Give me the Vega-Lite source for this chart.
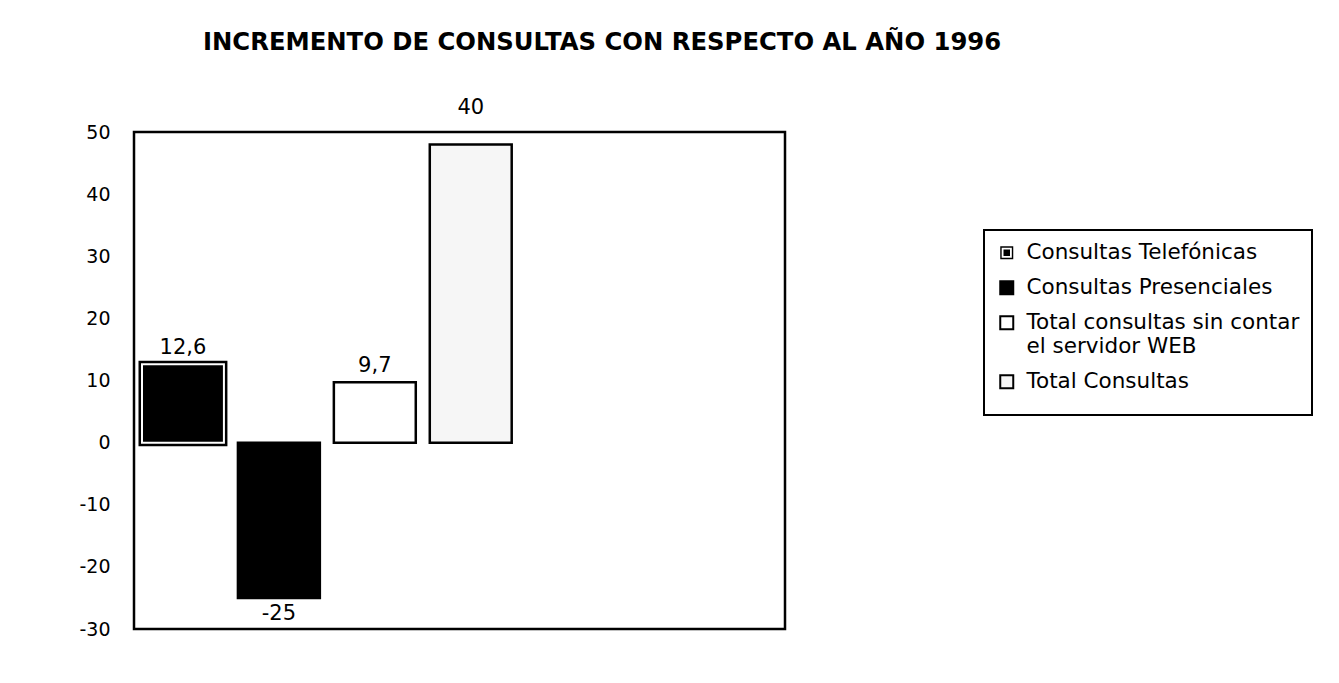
{
  "$schema": "https://vega.github.io/schema/vega-lite/v6.json",
  "autosize": {"type": "none"},
  "width": 651,
  "height": 497,
  "padding": {"left": 134, "top": 132, "right": 554, "bottom": 54},
  "background": "white",
  "title": {
    "text": "INCREMENTO DE CONSULTAS CON RESPECTO AL AÑO 1996",
    "font": "DejaVu Sans",
    "fontSize": 24.3,
    "fontWeight": "bold",
    "color": "black",
    "anchor": "start",
    "frame": "group",
    "dx": 69,
    "offset": 42
  },
  "data": {
    "values": [
      {"serie": "Consultas Telefónicas", "valor": 12.6, "etiqueta": "12,6"},
      {"serie": "Consultas Presenciales", "valor": -25, "etiqueta": "-25"},
      {"serie": "Total consultas sin contar el servidor WEB", "valor": 9.7, "etiqueta": "9,7"},
      {"serie": "Total Consultas", "valor": 48, "etiqueta": "40"}
    ]
  },
  "encoding": {
    "x": {
      "field": "serie",
      "type": "nominal",
      "axis": null,
      "scale": {
        "domain": ["Consultas Telefónicas", "Consultas Presenciales", "Total consultas sin contar el servidor WEB", "Total Consultas"],
        "paddingInner": 0.146,
        "paddingOuter": 0,
        "range": [8, 377.7]
      }
    },
    "y": {
      "field": "valor",
      "type": "quantitative",
      "scale": {"domain": [-30, 50], "nice": false, "zero": true},
      "axis": {
        "values": [-30, -20, -10, 0, 10, 20, 30, 40, 50],
        "labelExpr": "'' + datum.value",
        "domain": false,
        "ticks": false,
        "tickSize": 0,
        "grid": false,
        "title": null,
        "labelPadding": 24,
        "labelFont": "DejaVu Sans",
        "labelFontSize": 19,
        "labelColor": "black"
      }
    }
  },
  "layer": [
    {
      "mark": {"type": "bar", "stroke": "black"},
      "encoding": {
        "fill": {
          "field": "serie",
          "type": "nominal",
          "scale": {
            "domain": ["Consultas Telefónicas", "Consultas Presenciales", "Total consultas sin contar el servidor WEB", "Total Consultas"],
            "range": ["black", "black", "white", "#f6f6f6"]
          },
          "legend": {
            "orient": "none",
            "legendX": 850,
            "legendY": 98,
            "title": " ",
            "titleOrient": "bottom",
            "titleFontSize": 12,
            "titlePadding": 0,
            "padding": 12,
            "strokeColor": "black",
            "labelFont": "DejaVu Sans",
            "labelFontSize": 21.5,
            "labelColor": "black",
            "labelLimit": 500,
            "labelOffset": 9,
            "rowPadding": 12,
            "symbolType": "square",
            "symbolSize": 169,
            "symbolStrokeColor": "black",
            "symbolStrokeWidth": 2,
            "labelExpr": "datum.label == 'Total consultas sin contar el servidor WEB' ? ['Total consultas sin contar', 'el servidor WEB'] : datum.label",
            "encode": {
              "legend": {"update": {"strokeWidth": {"value": 2}}},
              "labels": {"update": {"lineHeight": {"value": 24}}},
              "symbols": {
                "update": {
                  "shape": {"signal": "datum.value == 'Consultas Telefónicas' ? 'M-1,-1H1V1H-1Z M-0.78,-0.78V0.78H0.78V-0.78Z M-0.5,-0.5H0.5V0.5H-0.5Z' : 'square'"},
                  "fill": {"signal": "(datum.value == 'Consultas Telefónicas' || datum.value == 'Consultas Presenciales') ? 'black' : 'white'"},
                  "stroke": {"value": "black"},
                  "strokeWidth": {"signal": "datum.value == 'Consultas Telefónicas' ? 0 : 2"},
                  "opacity": {"value": 1}
                }
              }
            }
          }
        },
        "strokeWidth": {
          "condition": {"test": "datum.serie === 'Consultas Telefónicas'", "value": 7},
          "value": 2.5
        }
      }
    },
    {
      "transform": [{"filter": "datum.serie === 'Consultas Telefónicas'"}],
      "mark": {"type": "bar", "fill": "black", "stroke": "white", "strokeWidth": 2}
    },
    {
      "transform": [{"filter": "datum.valor >= 0 && datum.serie !== 'Total Consultas'"}],
      "mark": {"type": "text", "baseline": "middle", "dy": -16, "font": "DejaVu Sans", "fontSize": 21, "color": "black"},
      "encoding": {"text": {"field": "etiqueta", "type": "nominal"}}
    },
    {
      "transform": [{"filter": "datum.serie === 'Total Consultas'"}],
      "mark": {"type": "text", "baseline": "middle", "dy": -36, "font": "DejaVu Sans", "fontSize": 21, "color": "black"},
      "encoding": {"text": {"field": "etiqueta", "type": "nominal"}}
    },
    {
      "transform": [{"filter": "datum.valor < 0"}],
      "mark": {"type": "text", "baseline": "middle", "dy": 16, "font": "DejaVu Sans", "fontSize": 21, "color": "black"},
      "encoding": {"text": {"field": "etiqueta", "type": "nominal"}}
    }
  ],
  "config": {
    "view": {"stroke": "black", "strokeWidth": 2.5},
    "font": "DejaVu Sans"
  }
}
